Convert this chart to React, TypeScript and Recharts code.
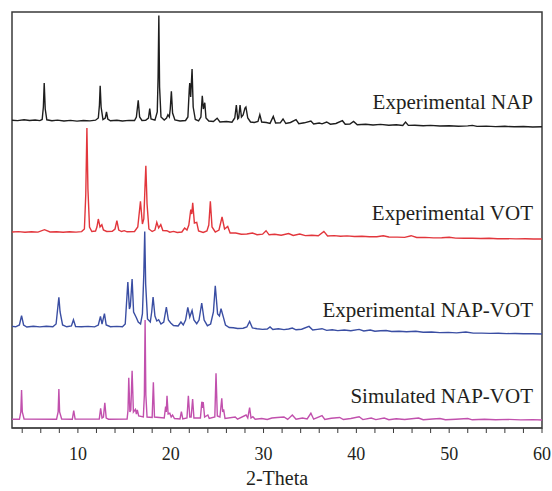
import React from "react";
import { LineChart, Line, XAxis, YAxis, ReferenceArea, Label } from "recharts";

// [2-theta, intensity (a.u.)]
type Pt = [number, number];

const NAP: Pt[] = [
  [2.9, 6.8], [3.5, 6.4], [4.2, 7.2], [4.8, 6.5], [5.4, 7], [5.9, 6.4], [6.15, 7.5], [6.28, 20], [6.37, 44], [6.48, 18],
  [6.65, 7.2], [7.2, 6.2], [7.8, 6.9], [8.5, 6], [9.2, 6.6], [9.9, 5.9], [10.6, 6.5], [11.3, 6.1], [11.9, 6.8], [12.2, 9],
  [12.32, 22], [12.4, 41.3], [12.5, 20], [12.7, 7.5], [12.95, 9], [13.08, 15], [13.22, 8], [13.5, 6.2], [14.2, 6.8], [14.8, 6],
  [15.5, 6.6], [16.1, 6.5], [16.3, 10], [16.5, 26.6], [16.65, 10], [16.9, 6.5], [17.3, 6.8], [17.6, 9], [17.74, 18.3], [17.88, 8],
  [18.3, 6.8], [18.55, 15], [18.64, 50], [18.72, 111.6], [18.8, 40], [18.95, 10], [19.3, 7], [19.55, 9], [19.7, 12.3], [19.85, 10],
  [19.95, 18], [20.07, 35.6], [20.2, 14], [20.45, 7], [21, 6], [21.6, 6.5], [21.85, 10], [22.0, 38], [22.05, 44], [22.15, 30],
  [22.3, 58], [22.42, 20], [22.65, 7.5], [23.0, 6.2], [23.25, 10], [23.4, 31.3], [23.52, 18], [23.67, 24.3], [23.8, 9], [24.1, 6],
  [24.6, 5.5], [25, 8.8], [25.3, 5], [26, 5.5], [26.6, 4.8], [26.9, 9], [27.07, 22], [27.22, 8], [27.32, 9], [27.47, 22],
  [27.62, 10], [27.8, 12], [28.0, 19], [28.1, 20], [28.3, 9], [28.6, 5], [29, 4.5], [29.4, 5.5], [29.6, 12.3], [29.8, 5],
  [30.3, 4.5], [30.7, 3.6], [31.05, 10.6], [31.3, 4], [31.8, 4.2], [32.1, 8], [32.4, 3.5], [32.9, 4.5], [33.5, 7.3], [33.8, 3.3],
  [34.4, 4.2], [35.1, 6], [35.4, 3], [36, 4], [36.3, 3.2], [36.8, 5], [37.2, 2.8], [37.8, 3.5], [38.5, 6.3], [38.8, 2.8],
  [39.3, 3], [39.7, 5.6], [40.1, 2.2], [41, 2.8], [41.8, 2], [42.6, 2.6], [43.5, 1.8], [44.3, 2.3], [45.0, 1.6], [45.3, 5],
  [45.6, 1.6], [46.3, 1.8], [47.2, 1.2], [48, 1.6], [49, 1], [50, 1.3], [51, 0.8], [52, 1.1], [52.5, 1.6], [53, 0.6],
  [54, 0.9], [55, 0.4], [56, 0.7], [57, 0.2], [58, 0.5], [59, 0], [60, 0.2],
];

const VOT: Pt[] = [
  [2.9, 7], [3.6, 7.4], [4.3, 6.8], [5, 7.3], [5.7, 6.9], [6.4, 9.3], [7, 7], [7.7, 7.3], [8.4, 6.8], [9.1, 7.2],
  [9.8, 6.9], [10.4, 7.4], [10.7, 10], [10.85, 45], [10.97, 111], [11.08, 50], [11.25, 12], [11.5, 7.5], [11.9, 8], [12.05, 12],
  [12.2, 20], [12.38, 12], [12.58, 14.3], [12.75, 9], [13.1, 7.5], [13.7, 7.8], [14.0, 10], [14.2, 18.3], [14.4, 9], [14.7, 7.5],
  [15.0, 8.3], [15.3, 7.2], [16.1, 7.5], [16.45, 12], [16.74, 37.6], [16.95, 15], [17.1, 20], [17.22, 50], [17.32, 73.3], [17.45, 35],
  [17.65, 10], [18.0, 7.5], [18.3, 9], [18.5, 16.6], [18.7, 11], [18.93, 14.3], [19.15, 8.5], [19.58, 8.3], [19.9, 6.8], [20.3, 7.6],
  [20.7, 6.5], [21.2, 7], [21.5, 11], [21.75, 9], [21.95, 14], [22.16, 29.3], [22.27, 25], [22.37, 36.3], [22.55, 16], [22.8, 16.6],
  [23.0, 8], [23.5, 6.5], [23.9, 8], [24.1, 14], [24.27, 37.6], [24.45, 12], [24.8, 7], [25.2, 9], [25.53, 22], [25.8, 10],
  [26.14, 12.6], [26.4, 6], [27, 6], [27.6, 4.8], [28.2, 5], [28.8, 6], [29.3, 4.3], [29.9, 4.8], [30.27, 8.3], [30.6, 4.2],
  [31.2, 4.8], [31.9, 3.8], [32.7, 5.5], [33.2, 3.6], [33.9, 5], [34.5, 3.4], [35.2, 3.8], [35.9, 3.2], [36.5, 7.6], [36.9, 3],
  [37.6, 3.4], [38.3, 2.8], [39, 3.1], [39.8, 2.5], [40.6, 2.8], [41.4, 2.3], [42.2, 2.2], [42.9, 3.3], [43.5, 2], [44.4, 1.9],
  [45.2, 1.6], [45.9, 3.3], [46.5, 1.5], [47.4, 1.6], [48.3, 1.1], [49.2, 1.3], [50, 1.8], [50.7, 0.9], [51.6, 0.8], [52.5, 0.8],
  [53.4, 0.5], [54.3, 0.7], [55.2, 0.3], [56.2, 0.4], [57.2, 0.1], [58.2, 0.2], [59.1, 0], [60, 0],
];

const NAP_VOT: Pt[] = [
  [2.9, 7.6], [3.3, 7.2], [3.7, 9], [3.93, 18.3], [4.15, 9], [4.5, 7], [5.2, 7.8], [5.9, 7.1], [6.6, 7.7], [7.3, 7.2],
  [7.65, 10], [7.85, 28], [7.95, 36.6], [8.08, 22], [8.35, 9], [8.8, 7.2], [9.3, 8], [9.52, 14.3], [9.75, 7.5], [10.4, 7.2],
  [11.1, 7.6], [11.8, 7.1], [12.2, 9], [12.43, 17.6], [12.6, 10], [12.86, 20.3], [13.05, 9], [13.5, 7.3], [14.2, 7.6], [14.8, 7.3],
  [15.1, 10], [15.38, 52], [15.55, 25], [15.65, 28], [15.84, 55], [16.0, 22], [16.3, 16.3], [16.5, 12], [16.75, 10], [16.95, 20],
  [17.1, 60], [17.2, 102.6], [17.3, 50], [17.5, 15], [17.8, 12], [17.95, 22], [18.1, 37], [18.3, 18], [18.5, 13], [18.7, 14.3],
  [18.95, 10], [19.25, 12], [19.53, 27], [19.75, 14], [20.0, 11], [20.3, 8.5], [20.8, 8], [21.1, 12], [21.35, 9], [21.6, 14],
  [21.84, 26.6], [22.05, 17], [22.3, 23.6], [22.5, 14], [22.8, 10.3], [23.05, 14], [23.34, 31], [23.6, 14], [23.95, 8.3], [24.3, 10],
  [24.6, 22], [24.8, 48.3], [25.05, 20], [25.25, 18], [25.42, 25.3], [25.65, 17.6], [25.9, 9], [26.3, 6.5], [26.75, 6.3], [27.2, 5.5],
  [27.8, 5.8], [28.2, 7], [28.5, 12.6], [28.8, 6], [29.3, 5.2], [29.9, 4.6], [30.4, 5], [30.7, 7], [31, 4.5], [31.6, 5.2],
  [32.2, 4.4], [32.7, 5], [33.1, 6], [33.5, 4.2], [34.1, 4.8], [34.9, 7.6], [35.3, 4], [35.8, 4.6], [36.3, 5.3], [36.8, 3.6],
  [37.4, 4.2], [38, 3.4], [38.7, 4], [39.4, 3.2], [40.3, 4.6], [40.8, 3], [41.5, 4], [42, 2.8], [42.6, 3.2], [43.2, 3.5],
  [43.8, 2.5], [44.6, 2.7], [45.4, 2.2], [46.4, 2.8], [47.2, 1.8], [48.1, 2], [49, 1.4], [49.9, 1.6], [50.8, 1.1], [51.8, 2],
  [52.6, 0.9], [53.5, 0.9], [54.4, 0.6], [55.3, 0.8], [56.2, 0.4], [57.1, 0.5], [58, 0.2], [59, 0.3], [60, 0],
];

const SIM: Pt[] = [
  [2.9, 0.7], [3.7, 0.7], [3.85, 8], [3.93, 30], [4.01, 8], [4.2, 1], [7.7, 0.8], [7.87, 8], [7.95, 31], [8.03, 8],
  [8.25, 1], [9.4, 0.8], [9.55, 9.3], [9.7, 1], [12.3, 0.9], [12.45, 11.7], [12.6, 2], [12.75, 3], [12.9, 17.3], [13.05, 2],
  [13.3, 0.8], [15.3, 1], [15.4, 10], [15.48, 42.3], [15.6, 8], [15.7, 10], [15.84, 49.3], [15.98, 8], [16.2, 10.7], [16.3, 6],
  [16.4, 10], [16.55, 4], [17.05, 3], [17.16, 25], [17.24, 100], [17.32, 25], [17.45, 3], [18.0, 2.5], [18.13, 37.7], [18.25, 3],
  [19.3, 2], [19.45, 13.3], [19.52, 8], [19.6, 24.3], [19.72, 6], [19.9, 6.7], [20.05, 3], [20.2, 5], [20.4, 1.5], [21.0, 1],
  [21.15, 8.3], [21.3, 1], [21.75, 2], [21.9, 24.3], [22.05, 3], [22.2, 3], [22.36, 21], [22.5, 2], [23.2, 2], [23.35, 18.3],
  [23.43, 12], [23.5, 18], [23.65, 3], [24.0, 5], [24.15, 1.5], [24.75, 3], [24.88, 46.7], [25.02, 4], [25.3, 3], [25.5, 21.7],
  [25.6, 8], [25.7, 10.7], [25.85, 1.5], [26.95, 3], [27.2, 0.8], [28.12, 5], [28.3, 2], [28.5, 12.3], [28.65, 2], [28.85, 3.3],
  [29.1, 0.8], [29.8, 1.5], [30.4, 0.5], [30.9, 2], [31.5, 2.5], [32.2, 3], [32.6, 0.6], [33.1, 5], [33.5, 0.8], [34.2, 2],
  [34.7, 1], [35.1, 6.7], [35.4, 0.8], [36.3, 4.3], [36.6, 0.5], [37.3, 1.8], [38.2, 2.5], [38.6, 0.5], [39.4, 1.5], [40.3, 3.3],
  [40.7, 0.4], [41.6, 2], [42.1, 0.4], [43, 2], [43.5, 0.3], [44.3, 1.2], [45.2, 0.5], [46.7, 2], [47.2, 0.3], [48.2, 1],
  [49, 1.5], [49.6, 0.2], [50.7, 0.8], [52, 1.5], [52.5, 0.2], [53.8, 0.7], [55, 0.2], [56.4, 0.6], [57.7, 0.1], [59, 0.4],
  [60, 0],
];

const NAMES = ["Experimental NAP", "Experimental VOT", "Experimental NAP-VOT", "Simulated NAP-VOT"];
const OFFSETS = [301, 189, 94, 8]; // vertical stacking of the patterns
const X_TICKS = [4, 6, 8, 10, 12, 14, 16, 18, 20, 22, 24, 26, 28, 30, 32, 34, 36, 38, 40, 42, 44, 46, 48, 50, 52, 54, 56, 58, 60];

const COLORS = ["#1e1e1e", "#e2363c", "#3a4ea3", "#c150ad"];
const LABEL_Y = [109, 220, 317, 403];
const FONT = "'Liberation Serif', 'Times New Roman', serif";

const toRows = (pts: Pt[], off: number) => pts.map(([x, y]) => ({ x, y: y + off }));

const App: React.FC = () => {
  const series = [NAP, VOT, NAP_VOT, SIM];
  return (
    <div style={{ position: "absolute", left: 0, top: 0, width: 552, height: 491, background: "#fff" }}>
      <LineChart width={552} height={491} margin={{ top: 12, right: 10, left: 12, bottom: 0 }}>
        <XAxis
          dataKey="x"
          type="number"
          domain={[2.9, 60]}
          allowDataOverflow
          ticks={X_TICKS}
          interval={0}
          tickFormatter={(v: number) => (v % 10 === 0 ? String(v) : "")}
          height={63}
          tickSize={5}
          tickMargin={14}
          stroke="#3a3a3a"
          tick={{ fill: "#231f20", fontSize: 18, fontFamily: FONT }}
        >
          <Label
            value="2-Theta"
            position="insideBottom"
            offset={6}
            style={{ fill: "#231f20", fontSize: 20, fontFamily: FONT }}
          />
        </XAxis>
        <YAxis type="number" domain={[0, 416]} hide allowDataOverflow />
        <ReferenceArea x1={2.9} x2={60} y1={0} y2={416} fill="none" stroke="#3a3a3a" strokeWidth={1.5} />
        {series.map((pts, i) => (
          <Line
            key={NAMES[i]}
            data={toRows(pts, OFFSETS[i])}
            dataKey="y"
            type="linear"
            stroke={COLORS[i]}
            strokeWidth={1.4}
            dot={false}
            isAnimationActive={false}
          />
        ))}
      </LineChart>
      <svg
        width={552}
        height={491}
        style={{ position: "absolute", left: 0, top: 0, pointerEvents: "none" }}
      >
        {NAMES.map((n, i) => (
          <text
            key={n}
            x={533}
            y={LABEL_Y[i]}
            textAnchor="end"
            fill="#231f20"
            fontSize={21}
            fontFamily={FONT}
          >
            {n}
          </text>
        ))}
      </svg>
    </div>
  );
};

export default App;
